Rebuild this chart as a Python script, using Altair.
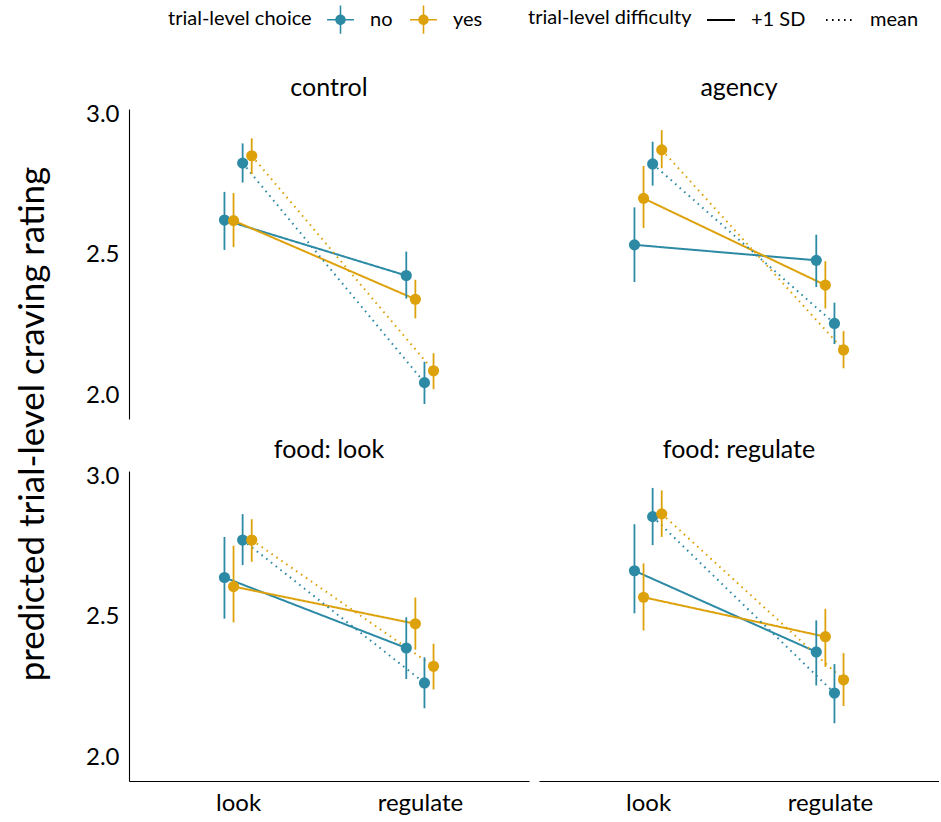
import json

import altair as alt
import pandas as pd

# Panels, conditions and groups
panels = ["control", "agency", "food: look", "food: regulate"]
conditions = ["look", "regulate"]
choices = ["no", "yes"]
difficulties = ["+1 SD", "mean"]

# Predicted ratings per panel, in the order:
# look (no/+1 SD, yes/+1 SD, no/mean, yes/mean), then regulate in the same order
control_est = [2.624, 2.622, 2.826, 2.852, 2.427, 2.343, 2.047, 2.089]
control_lo = [2.518, 2.528, 2.757, 2.787, 2.345, 2.275, 1.971, 2.024]
control_hi = [2.724, 2.720, 2.896, 2.914, 2.512, 2.412, 2.121, 2.151]

agency_est = [2.536, 2.701, 2.823, 2.873, 2.481, 2.393, 2.257, 2.163]
agency_lo = [2.404, 2.596, 2.746, 2.808, 2.386, 2.310, 2.184, 2.098]
agency_hi = [2.669, 2.816, 2.902, 2.943, 2.572, 2.478, 2.331, 2.230]

food_look_est = [2.640, 2.608, 2.773, 2.773, 2.390, 2.476, 2.266, 2.325]
food_look_lo = [2.494, 2.481, 2.684, 2.696, 2.280, 2.384, 2.176, 2.243]
food_look_hi = [2.784, 2.753, 2.865, 2.847, 2.499, 2.569, 2.357, 2.405]

food_reg_est = [2.664, 2.570, 2.856, 2.866, 2.376, 2.430, 2.230, 2.277]
food_reg_lo = [2.513, 2.452, 2.755, 2.784, 2.257, 2.323, 2.123, 2.184]
food_reg_hi = [2.829, 2.690, 2.958, 2.949, 2.488, 2.529, 2.333, 2.372]

estimates = [control_est, agency_est, food_look_est, food_reg_est]
lowers = [control_lo, agency_lo, food_look_lo, food_reg_lo]
uppers = [control_hi, agency_hi, food_look_hi, food_reg_hi]

rows = []
for panel, est, lo, hi in zip(panels, estimates, lowers, uppers):
    i = 0
    for cond in conditions:
        for diff in difficulties:
            for ch in choices:
                rows.append(
                    dict(panel=panel, condition=cond, difficulty=diff, choice=ch,
                         estimate=est[i], lower=lo[i], upper=hi[i])
                )
                i += 1
df = pd.DataFrame(rows)

FONT = "Lato"
TEAL = "#2C8AA5"
GOLD = "#DDA20B"
LEGEND_FS = 20

# dodge the four groups around each condition
dodge_expr = (
    f"indexof({json.dumps(difficulties)}, datum.difficulty) * 2"
    f" + indexof({json.dumps(choices)}, datum.choice)"
)
xpos_expr = f"indexof({json.dumps(conditions)}, datum.condition) + 1 + (datum.dodge - 1.5) * 0.05"
label_expr = f"{json.dumps(conditions)}[datum.value - 1]"

x_enc = alt.X(
    "xpos:Q",
    scale=alt.Scale(domain=[0.4, 2.6], nice=False, zero=False),
    axis=alt.Axis(values=[1, 2], labelExpr=label_expr, title=None, labelPadding=10),
)
y_scale = alt.Scale(domain=[1.918, 3.018], nice=False, zero=False)
y_axis = alt.Axis(values=[2.0, 2.5, 3.0], format=".1f", title=None, labelPadding=10)

color_scale = alt.Scale(domain=choices, range=[TEAL, GOLD])
dash_scale = alt.Scale(domain=difficulties, range=[[1, 0], [1.6, 4.4]])

# point-range key glyph: dot with a vertical and a horizontal bar
key_glyph = (
    "M-0.37,0A0.37,0.37,0,1,1,0.37,0A0.37,0.37,0,1,1,-0.37,0Z "
    "M-0.055,-1H0.055V1H-0.055Z "
    "M-0.95,-0.055H0.95V0.055H-0.95Z"
)

color_legend = alt.Legend(
    title="trial-level choice",
    orient="none",
    legendX=39,
    legendY=-104,
    symbolType=key_glyph,
    symbolSize=800,
    symbolStrokeWidth=0,
    symbolOpacity=1,
    titleFontSize=LEGEND_FS,
    labelFontSize=LEGEND_FS,
    titlePadding=14,
    labelOffset=15,
    columnPadding=16,
)
color_enc = alt.Color("choice:N", scale=color_scale, legend=color_legend)

base = alt.Chart(df).transform_calculate(dodge=dodge_expr).transform_calculate(xpos=xpos_expr)

lines = base.mark_line(strokeWidth=2).encode(
    x=x_enc,
    y=alt.Y("estimate:Q", scale=y_scale, axis=y_axis),
    color=color_enc,
    strokeDash=alt.StrokeDash(
        "difficulty:N",
        scale=dash_scale,
        legend=alt.Legend(
            title="trial-level difficulty",
            orient="none",
            legendX=399,
            legendY=-104,
            symbolType="stroke",
            symbolStrokeColor="black",
            symbolStrokeWidth=1.8,
            symbolSize=784,
            titleFontSize=LEGEND_FS,
            labelFontSize=LEGEND_FS,
            titlePadding=14,
            labelOffset=15,
            columnPadding=16,
        ),
    ),
    detail="choice:N",
)

rules = base.mark_rule(strokeWidth=1.8).encode(
    x=x_enc,
    y=alt.Y("lower:Q", scale=y_scale, axis=y_axis),
    y2="upper:Q",
    color=color_enc,
)

points = base.mark_circle(size=125, opacity=1).encode(
    x=x_enc,
    y=alt.Y("estimate:Q", scale=y_scale, axis=y_axis),
    color=color_enc,
)

chart = (
    alt.layer(lines, rules, points)
    .properties(width=400, height=310)
    .facet(
        facet=alt.Facet(
            "panel:N",
            sort=panels,
            header=alt.Header(title=None, labelFontSize=25, labelFont=FONT,
                              labelColor="black", labelPadding=8),
        ),
        columns=2,
        spacing={"row": 19, "column": 10},
    )
    .properties(
        title=alt.TitleParams(
            "predicted trial-level craving rating",
            orient="left",
            anchor="middle",
            fontSize=35,
            fontWeight="normal",
            font=FONT,
            color="black",
            offset=34,
            dx=-14,
        ),
        padding={"left": 16, "top": 5, "right": 0, "bottom": 5},
    )
    .configure_view(stroke=None)
    .configure_axis(
        grid=False,
        ticks=False,
        domainColor="black",
        domainWidth=1.1,
        labelFont=FONT,
        labelFontSize=24,
        labelColor="black",
    )
    .configure_legend(
        direction="horizontal",
        titleOrient="left",
        titleFont=FONT,
        titleFontWeight="normal",
        titleColor="black",
        labelFont=FONT,
        labelColor="black",
    )
)

chart.save("out.html", embed_options={"renderer": "svg", "actions": False})
